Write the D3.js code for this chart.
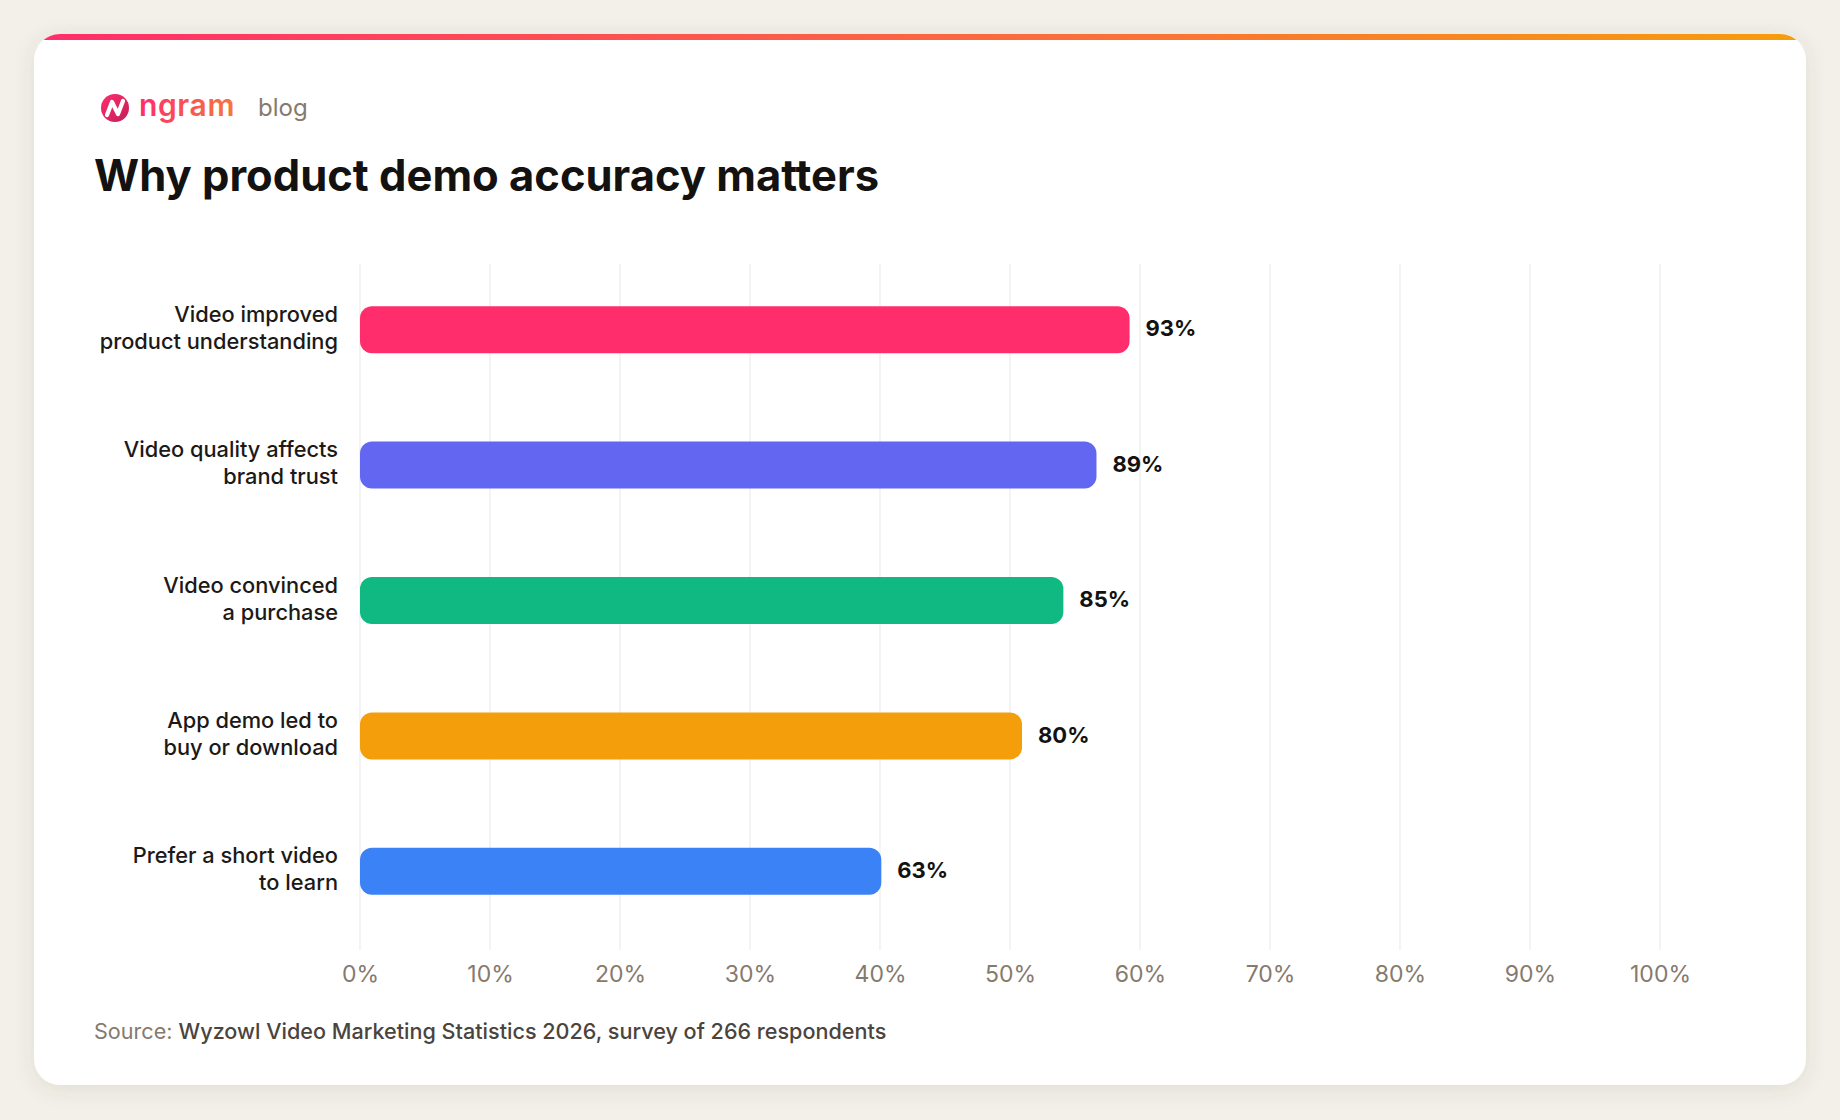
<!DOCTYPE html>
<html>
<head>
<meta charset="utf-8">
<script src="https://cdn.jsdelivr.net/npm/d3@7"></script>
<style>
  html, body { margin: 0; padding: 0; background: #f3f0ea; }
  svg { display: block; font-family: Inter, "Noto Sans", sans-serif; }
</style>
</head>
<body>
<div id="chart"></div>
<script>
"use strict"

// data
const categories = [
    ["Video improved", "product understanding"],
    ["Video quality affects", "brand trust"],
    ["Video convinced", "a purchase"],
    ["App demo led to", "buy or download"],
    ["Prefer a short video", "to learn"],
]
const values = [93, 89, 85, 80, 63]
const barColors = ["#ff2d6b", "#6366f1", "#10b981", "#f59e0b", "#3b82f6"]
const tickValues = [0, 10, 20, 30, 40, 50, 60, 70, 80, 90, 100]
const title = "Why product demo accuracy matters"
const sourceLabel = "Source:"
const sourceText = "Wyzowl Video Marketing Statistics 2026, survey of 266 respondents"

const W = 1840, H = 1120
const card = { x: 34, y: 34, w: 1772, h: 1051, r: 26 }
const frame = { l: 360, r: 1660, t: 264, b: 950, bandT: 262, bandB: 939 }

const svg = d3.select("#chart").append("svg")
    .attr("width", W).attr("height", H)
    .attr("viewBox", `0 0 ${ W } ${ H }`)

const defs = svg.append("defs")

// card shadow
const shadow = defs.append("filter").attr("id", "shadow")
    .attr("x", "-5%").attr("y", "-5%").attr("width", "110%").attr("height", "115%")
shadow.append("feDropShadow")
    .attr("dx", 0).attr("dy", 4).attr("stdDeviation", 10)
    .attr("flood-color", "#5a4a30").attr("flood-opacity", 0.12)

const topGrad = defs.append("linearGradient").attr("id", "topGrad")
topGrad.append("stop").attr("offset", "0%").attr("stop-color", "#ff2d6b")
topGrad.append("stop").attr("offset", "55%").attr("stop-color", "#fb6a3f")
topGrad.append("stop").attr("offset", "100%").attr("stop-color", "#f59e0b")

const logoGrad = defs.append("linearGradient").attr("id", "logoGrad")
    .attr("x1", "0%").attr("y1", "0%").attr("x2", "100%").attr("y2", "0%")
logoGrad.append("stop").attr("offset", "0%").attr("stop-color", "#ff2d6b")
logoGrad.append("stop").attr("offset", "100%").attr("stop-color", "#f47a3a")

const iconGrad = defs.append("linearGradient").attr("id", "iconGrad")
    .attr("x1", "0%").attr("y1", "0%").attr("x2", "100%").attr("y2", "100%")
iconGrad.append("stop").attr("offset", "0%").attr("stop-color", "#ff2d6b")
iconGrad.append("stop").attr("offset", "100%").attr("stop-color", "#c21f5a")

defs.append("clipPath").attr("id", "cardClip")
    .append("rect")
    .attr("x", card.x).attr("y", card.y).attr("width", card.w).attr("height", card.h)
    .attr("rx", card.r)

// card
svg.append("rect")
    .attr("x", card.x).attr("y", card.y).attr("width", card.w).attr("height", card.h)
    .attr("rx", card.r).attr("fill", "#fff").attr("filter", "url(#shadow)")
svg.append("rect")
    .attr("clip-path", "url(#cardClip)")
    .attr("x", card.x).attr("y", card.y).attr("width", card.w).attr("height", 6)
    .attr("fill", "url(#topGrad)")

// logo
const logo = svg.append("g").attr("transform", "translate(115, 108)")
logo.append("circle").attr("r", 14).attr("fill", "url(#iconGrad)")
logo.append("path")
    .attr("d", "M-8,7 L-3,-6 L3,6 L8,-7")
    .attr("fill", "none").attr("stroke", "#fff").attr("stroke-width", 4.2)
    .attr("stroke-linecap", "round").attr("stroke-linejoin", "round")
svg.append("text")
    .attr("x", 139).attr("y", 116)
    .attr("font-size", 30).attr("font-weight", 600)
    .attr("fill", "url(#logoGrad)")
    .attr("letter-spacing", 0.6)
    .text("ngram")
svg.append("text")
    .attr("x", 258).attr("y", 116)
    .attr("font-size", 24).attr("font-weight", 400)
    .attr("fill", "#857a6e")
    .text("blog")

// title
svg.append("text")
    .attr("x", 94).attr("y", 191)
    .attr("font-size", 43.5).attr("font-weight", 700)
    .attr("fill", "#141210")
    .text(title)

// scales
const x = d3.scaleLinear().domain([0, 100]).range([frame.l, frame.r])
// bars in the original are drawn on a wider domain than the axis
const xBar = d3.scaleLinear().domain([0, 157.1]).range([frame.l, frame.r])
const y = d3.scalePoint().domain(d3.range(values.length))
    .range([frame.bandT, frame.bandB]).padding(0.5)
const barH = 47

// gridlines
svg.append("g").selectAll("line")
    .data(tickValues)
    .enter().append("line")
        .attr("x1", d => x(d)).attr("x2", d => x(d))
        .attr("y1", frame.t).attr("y2", frame.b)
        .attr("stroke", "#ececec").attr("stroke-width", 1.2)

// x-axis
const xAxis = d3.axisBottom(x)
    .tickValues(tickValues)
    .tickFormat(d => d + "%")
    .tickSize(0).tickPadding(16)
const axG = svg.append("g")
    .attr("transform", `translate(0, ${ frame.b })`)
    .call(xAxis)
axG.select(".domain").remove()
axG.selectAll("text")
    .attr("font-family", "Inter, sans-serif")
    .attr("font-size", 23).attr("fill", "#857a6e")

// bars
svg.append("g").selectAll("rect")
    .data(values)
    .enter().append("rect")
        .attr("x", xBar(0))
        .attr("y", (d, i) => y(i) - barH / 2)
        .attr("width", d => xBar(d) - xBar(0))
        .attr("height", barH)
        .attr("rx", 12)
        .attr("fill", (d, i) => barColors[i])

// value labels
svg.append("g").selectAll("text")
    .data(values)
    .enter().append("text")
        .attr("x", d => xBar(d) + 16)
        .attr("y", (d, i) => y(i) - 1)
        .attr("dy", "0.35em")
        .attr("font-size", 22).attr("font-weight", 700)
        .attr("fill", "#141210")
        .text(d => d + "%")

// category labels
const catG = svg.append("g").selectAll("text")
    .data(categories)
    .enter().append("text")
        .attr("text-anchor", "end")
        .attr("font-size", 21.8).attr("font-weight", 500)
        .attr("fill", "#1c1917")
        .attr("transform", (d, i) => `translate(338, ${ y(i) - 2 })`)
catG.selectAll("tspan")
    .data(d => d)
    .enter().append("tspan")
        .attr("x", 0)
        .attr("y", (d, j) => (j - 0.5) * 27)
        .attr("dy", "0.35em")
        .text(d => d)

// source
const src = svg.append("text")
    .attr("x", 94).attr("y", 1039)
    .attr("font-size", 21.6)
src.append("tspan").attr("fill", "#857a6e").attr("font-weight", 400).text(sourceLabel + " ")
src.append("tspan").attr("fill", "#4a443d").attr("font-weight", 500).text(sourceText)
</script>
</body>
</html>
